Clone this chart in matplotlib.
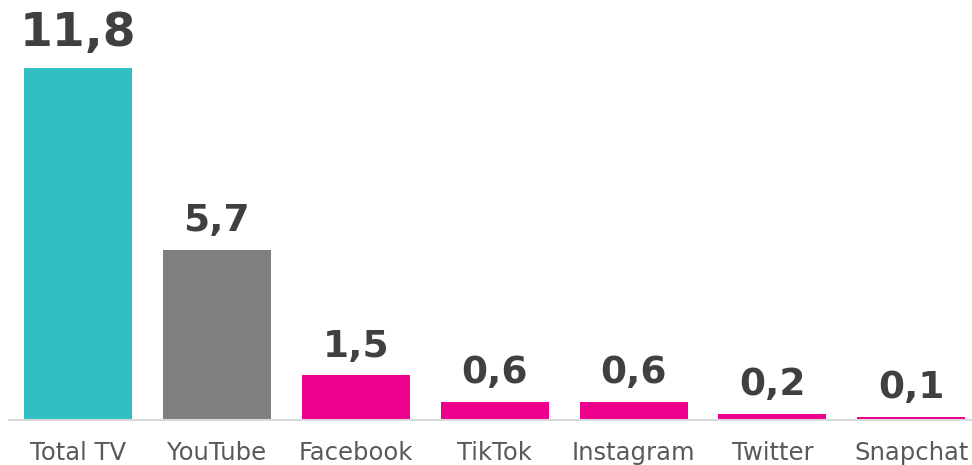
import matplotlib.pyplot as plt

categories = ["Total TV", "YouTube", "Facebook", "TikTok", "Instagram", "Twitter", "Snapchat"]
values = [11.8, 5.7, 1.5, 0.6, 0.6, 0.2, 0.1]
value_labels = ["11,8", "5,7", "1,5", "0,6", "0,6", "0,2", "0,1"]
colors = ["#31BFC1", "#7F7F7F", "#EC008C", "#EC008C", "#EC008C", "#EC008C", "#EC008C"]

fig = plt.figure(figsize=(9.72, 4.65), dpi=100)
ax = fig.add_axes([8.5 / 972, 45 / 465, 1 - 8.5 / 972, 420 / 465])

x = range(len(categories))
bars = ax.bar(x, values, width=0.778, color=colors, zorder=2)

for i, (b, lab) in enumerate(zip(bars, value_labels)):
    big = i == 0
    ax.annotate(lab, (b.get_x() + b.get_width() / 2, b.get_height()),
                xytext=(0, 16 if big else 13.5), textcoords="offset points",
                ha="center", va="baseline", fontsize=34 if big else 27,
                fontweight="bold", color="#404040")

ax.set_xlim(-0.5, -0.5 + 963.5 / 138.9)
ax.set_ylim(0, 14.08)
ax.set_xticks(list(x))
ax.set_xticklabels(categories, fontsize=17.5, color="#595959")
ax.tick_params(axis="x", length=0, pad=15)
ax.set_yticks([])
for s in ["top", "right", "left"]:
    ax.spines[s].set_visible(False)
ax.spines["bottom"].set_color("#D9D9D9")
ax.spines["bottom"].set_linewidth(1.5)

fig.savefig("out.png", dpi=100)
